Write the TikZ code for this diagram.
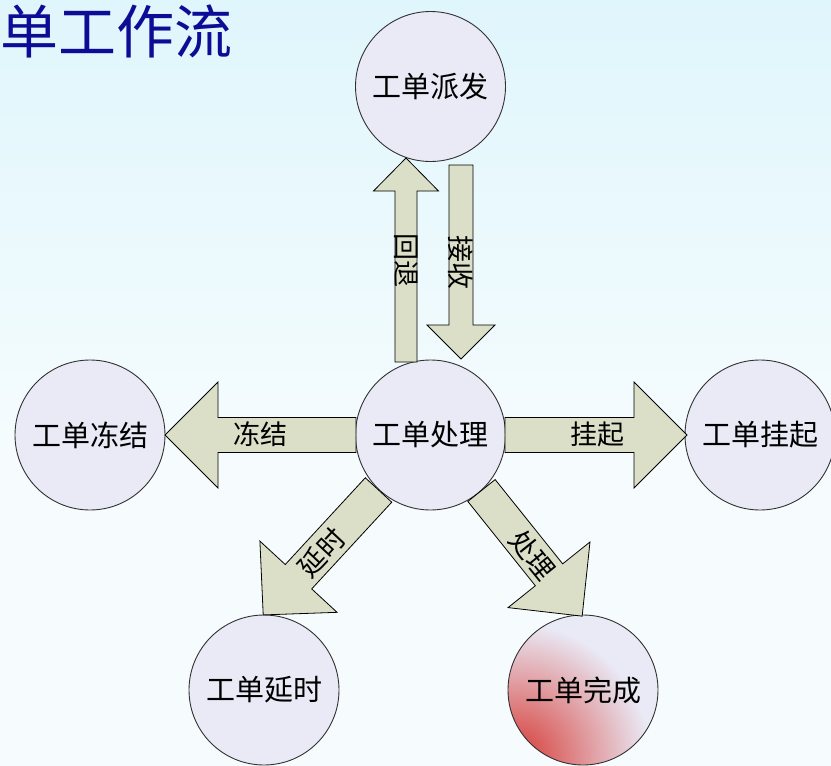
\documentclass[tikz,border=0pt]{standalone}
\usepackage{fontspec}
\newfontfamily\cjk{Noto Sans CJK SC}
\definecolor{bgtop}{RGB}{204,241,250}
\definecolor{bgmid}{RGB}{246,252,254}
\definecolor{bgbot}{RGB}{212,245,252}
\definecolor{cfill}{RGB}{233,234,246}
\definecolor{cline}{RGB}{50,50,50}
\definecolor{afill}{RGB}{220,223,200}
\definecolor{redc}{RGB}{214,58,52}
\definecolor{titleblue}{RGB}{12,12,150}
\pgfdeclareverticalshading{bgshade}{100bp}{color(0bp)=(bgbot); color(22bp)=(bgmid); color(45bp)=(bgmid); color(100bp)=(bgtop)}
\tikzset{
  circ/.style={circle, minimum size=150pt, inner sep=0pt, fill=cfill, draw=cline, line width=0.9pt,
    font=\cjk\fontsize{29}{29}\selectfont},
  arrowbox/.style={fill=afill, draw=black, line width=0.8pt, line join=miter},
  alabel/.style={inner sep=0pt, font=\cjk\fontsize{27}{27}\selectfont},
}
\newcommand\blockarr[6]{%
  \begin{scope}[shift={(#1)}, rotate=#2]
    \draw[arrowbox] (0,-#4/2) -- ({#3-#6},-#4/2) -- ({#3-#6},-#5/2) -- (#3,0)
      -- ({#3-#6},#5/2) -- ({#3-#6},#4/2) -- (0,#4/2) -- cycle;
  \end{scope}}
\begin{document}
\begin{tikzpicture}[x=1pt,y=-1pt]
\useasboundingbox (0,0) rectangle (831,766);
\shade[shading=bgshade] (0,0) rectangle (831,766);

% title
\node[anchor=east, inner sep=0pt, text=titleblue, font=\cjk\fontsize{58}{58}\selectfont] (title) at (233,31) {工单工作流};

% circles
\node[circ] (disp) at (430.5,86.5) {工单派发};
\node[circ] (proc) at (430.5,435) {工单处理};
\node[circ] (frz)  at (90,435) {工单冻结};
\node[circ] (hang) at (760,435) {工单挂起};
\node[circ] (dly)  at (264,690) {工单延时};
\begin{scope}
  \clip (583,690) circle (75pt);
  \fill[cfill] (583,690) circle (76pt);
  \shade[inner color=redc, outer color=cfill] (515,758) circle (135pt);
\end{scope}
\node[circ, fill=none] (done) at (583,690) {工单完成};

% arrow start points
\coordinate (sUp) at (406,362);
\coordinate (sDn) at (461,165);
\coordinate (sL)  at (356,435);
\coordinate (sR)  at (505,435);
\coordinate (sDL) at (378.5,490);
\coordinate (sDR) at (481.5,490.5);

\blockarr{sUp}{90}{204}{22}{65}{33}
\blockarr{sDn}{-90}{194}{24}{68}{34}
\blockarr{sL}{180}{191}{35}{106}{53}
\blockarr{sR}{0}{182}{35}{106}{53}
\blockarr{sDL}{-132.7}{170}{36}{105}{52}
\blockarr{sDR}{-51.3}{161}{35}{105}{53}

% arrow labels
\node[alabel, rotate=-90] (lUp) at (406,260) {回退};
\node[alabel, rotate=-90] (lDn) at (461,262) {接收};
\node[alabel] (lL) at (260,434) {冻结};
\node[alabel] (lR) at (597,434) {挂起};
\node[alabel, rotate=47] (lDL) at (322,553) {延时};
\node[alabel, rotate=-51] (lDR) at (532,555) {处理};
\end{tikzpicture}
\end{document}
